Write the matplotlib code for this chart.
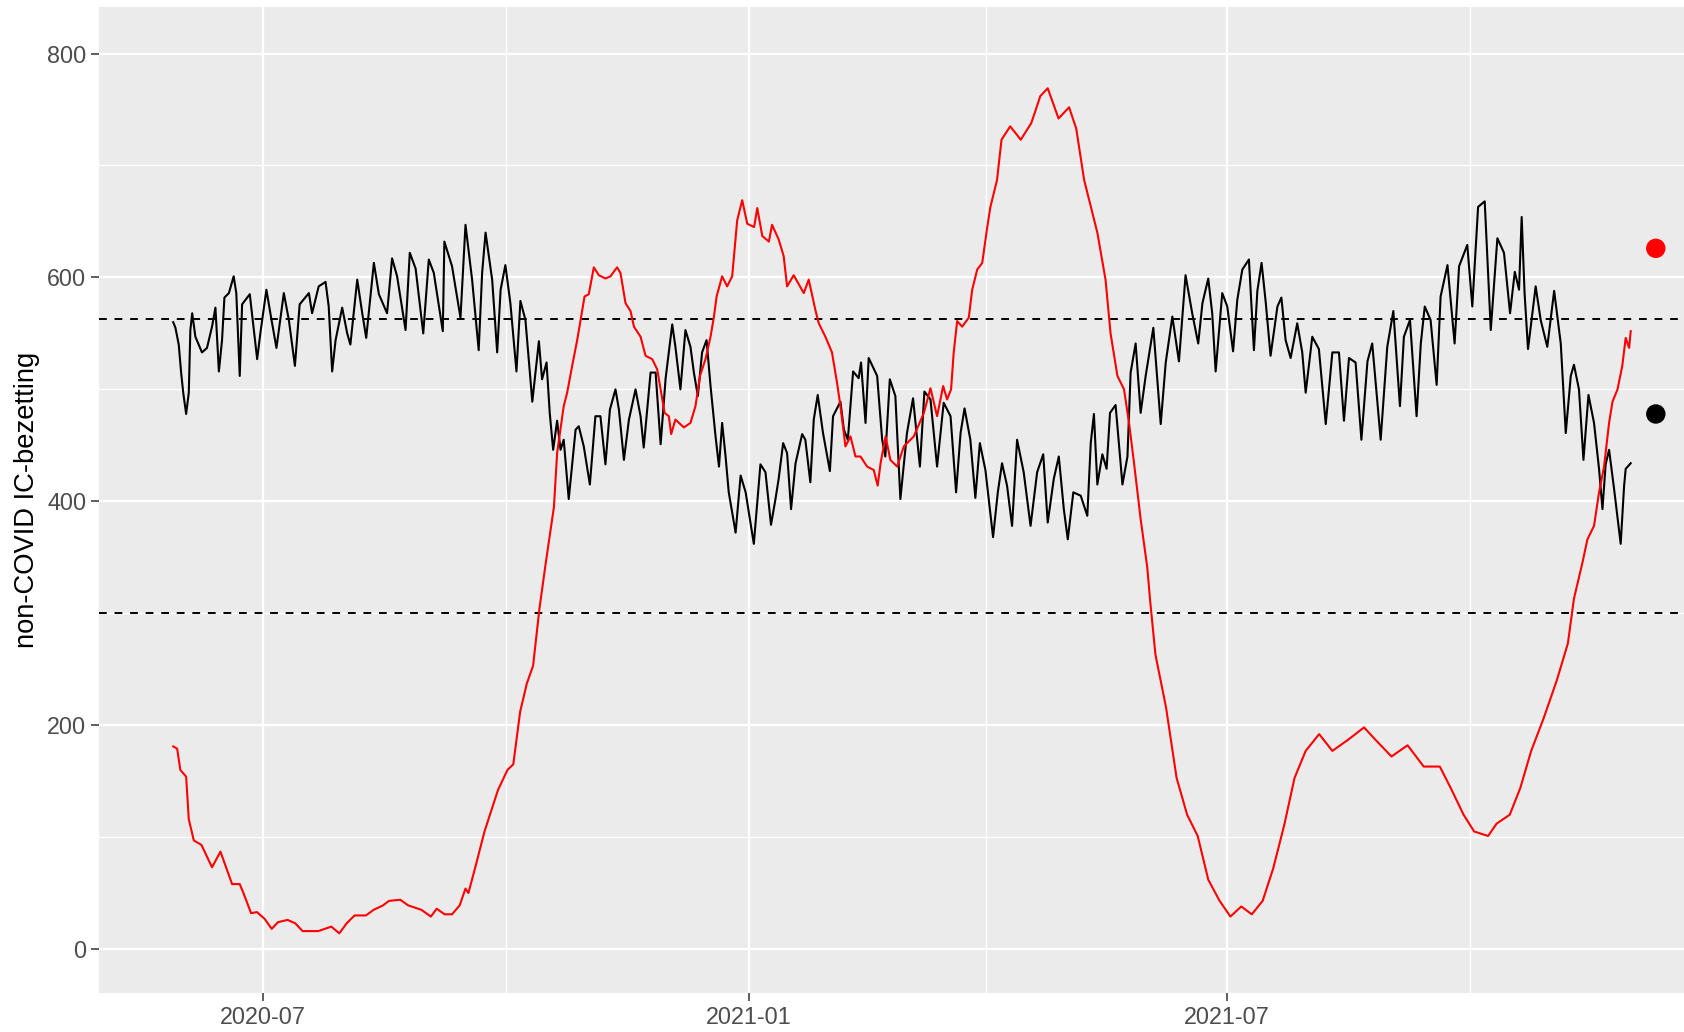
import matplotlib
matplotlib.use('Agg')
import matplotlib.pyplot as plt
import matplotlib.dates as mdates
import numpy as np
import pandas as pd

plt.rcParams['font.family'] = ['Liberation Sans', 'DejaVu Sans']

start = pd.Timestamp('2020-05-28')

# non-COVID IC occupancy (black), days counted from start
black_days = [0, 0.85, 2.1, 3.0, 3.8, 4.9, 5.9, 6.5, 7.2, 8.4, 10.9, 12.8, 14.7, 16.0, 17.3, 18.5,
              19.4, 21.1, 22.9, 23.9, 25.2, 26.1, 29.0, 31.8, 33.0, 35.3, 36.8, 39.1, 41.9, 43.8,
              46.1, 47.9, 51.4, 52.6, 55.1, 57.7, 58.9, 60.2, 61.5, 64.0, 65.9, 67.1, 69.7, 71.6,
              73.1, 76.0, 77.9, 81.0, 82.9, 84.8, 88.0, 89.6, 91.8, 94.7, 96.8, 98.7, 102.1, 102.7,
              105.6, 108.8, 110.7, 113.2, 115.7, 117.0, 118.3, 120.8, 122.7, 124.0, 125.8, 127.7,
              130.0, 131.5, 133.4, 136.0, 138.5, 139.7, 141.4, 142.6, 143.9, 145.4, 146.7, 147.9,
              149.8, 152.4, 153.6, 155.5, 157.8, 159.9, 161.8, 163.7, 165.4, 167.5, 168.8, 170.7,
              172.6, 175.1, 177.0, 178.2, 180.8, 182.7, 184.6, 186.5, 189.0, 190.2, 192.1, 194.0,
              195.9, 197.2, 198.7, 200.3, 202.0, 203.5, 205.4, 206.7, 207.9, 209.2, 210.4, 213.0,
              214.9, 216.8, 219.9, 222.4, 224.3, 226.4, 228.1, 229.3, 231.0, 232.5, 234.0, 235.7,
              238.2, 239.4, 241.3, 242.6, 244.1, 246.1, 248.7, 249.9, 252.7, 254.0, 255.5, 257.5,
              259.6, 260.5, 262.2, 263.4, 266.6, 268.5, 269.7, 271.4, 273.5, 275.4, 277.9, 280.2,
              282.8, 284.5, 286.8, 289.3, 291.8, 294.4, 296.5, 298.2, 299.7, 301.9, 303.8, 305.5,
              307.6, 310.5, 312.3, 313.9, 315.8, 317.7, 319.6, 322.1, 324.7, 327.2, 329.5, 331.2,
              333.5, 335.4, 337.3, 338.8, 340.9, 343.7, 346.2, 347.5, 348.7, 350.0, 351.9, 353.5,
              354.8, 356.9, 359.5, 361.4, 362.6, 364.5, 366.4, 368.3, 371.2, 374.0, 375.9, 378.4,
              380.9, 383.4, 386.0, 388.2, 389.8, 392.0, 393.5, 394.8, 397.3, 399.2, 401.4, 403.0,
              404.9, 407.4, 409.3, 410.6, 412.2, 413.8, 415.6, 418.2, 419.7, 421.3, 423.2, 425.7,
              427.6, 428.9, 431.4, 433.9, 436.5, 439.0, 441.5, 443.4, 445.3, 447.8, 450.0, 452.3,
              454.1, 457.3, 459.8, 462.1, 464.6, 466.1, 468.4, 470.9, 472.5, 474.0, 476.2, 478.5,
              480.0, 482.6, 485.3, 487.0, 490.1, 492.0, 494.2, 496.7, 499.0, 501.5, 504.0, 506.3,
              508.1, 509.7, 510.7, 511.8, 513.1, 516.0, 517.9, 520.4, 523.0, 525.5, 527.4, 529.3,
              530.5, 532.4, 534.1, 536.0, 538.1, 540.0, 541.3, 542.5, 543.8, 545.7, 548.2, 549.5,
              550.1, 552.0]
black_vals = [560, 555, 540, 515, 497, 478, 497, 553, 568, 547, 533, 537, 556, 573, 516, 544,
              582, 586, 601, 586, 512, 576, 585, 527, 550, 589, 568, 537, 586, 562,
              521, 576, 586, 568, 592, 596, 574, 516, 544, 573, 550, 540, 598, 568,
              546, 613, 585, 568, 617, 601, 553, 622, 608, 550, 616, 604, 552, 632,
              610, 564, 647, 598, 535, 604, 640, 598, 533, 589, 611, 577,
              516, 579, 562, 489, 543, 509, 524, 479, 446, 472, 446, 455,
              402, 464, 467, 449, 415, 476, 476, 433, 482, 500, 482, 437,
              473, 500, 476, 448, 515, 515, 451, 510, 558, 538, 500, 553,
              538, 515, 494, 533, 544, 503, 458, 431, 470, 440, 408, 372,
              423, 408, 362, 433, 426, 379, 402, 420, 452, 443, 393, 434,
              460, 455, 417, 473, 495, 461, 427, 476, 489, 464, 455, 516,
              510, 524, 470, 528, 512, 455, 440, 509, 494, 402, 461, 492,
              431, 498, 491, 431, 488, 476, 408, 461, 483, 455, 403, 452,
              428, 368, 408, 434, 414, 378, 455, 426, 378, 426, 442, 381,
              420, 440, 393, 366, 408, 405, 387, 452, 478, 415, 442, 429,
              479, 486, 415, 440, 515, 541, 479, 512, 555, 469, 524, 565,
              525, 602, 567, 541, 577, 599, 568, 516, 586, 574, 534, 580,
              607, 616, 535, 588, 613, 577, 530, 574, 582, 544, 528, 559,
              533, 497, 547, 536, 469, 533, 533, 472, 528, 524, 455, 525,
              541, 455, 538, 570, 485, 547, 562, 476, 541, 574, 562, 504,
              583, 611, 541, 610, 629, 574, 663, 668, 553, 635, 622, 568,
              605, 589, 654, 586, 536, 592, 562, 538, 588, 541, 461, 512,
              522, 500, 437, 495, 470, 429, 393, 433, 446, 411, 362, 414,
              429, 434]

# COVID IC occupancy (red)
red_days = [0, 1.5, 2.7, 4.9, 5.9, 7.8, 10.7, 14.7, 17.9, 22.3, 25.2, 26.6, 29.5, 31.7, 34.6,
            37.3, 39.7, 43.3, 46.2, 49.0, 54.9, 59.9, 62.9, 65.7, 68.7, 73.0, 75.9, 79.5, 81.7,
            86.0, 89.0, 94.0, 97.6, 99.8, 102.8, 105.6, 108.5, 110.7, 111.8, 114.3, 117.9, 123.0,
            126.6, 128.8, 131.4, 133.9, 136.3, 138.7, 141.1, 144.2, 145.4, 147.9, 149.2, 151.1,
            153.0, 154.3, 155.8, 157.4, 159.3, 161.2, 163.7, 165.6, 168.1, 169.4, 171.3, 173.2,
            174.5, 177.0, 178.9, 181.4, 183.3, 184.6, 186.1, 187.7, 188.6, 190.2, 193.4, 195.9,
            197.8, 199.5, 201.6, 203.5, 204.8, 205.8, 207.9, 209.8, 211.7, 212.3, 213.6, 215.5,
            217.4, 220.0, 221.2, 223.1, 225.6, 226.8, 229.3, 231.2, 232.5, 235.0, 238.8, 240.7,
            243.2, 244.5, 247.0, 249.5, 251.4, 252.7, 254.6, 256.5, 258.4, 260.3, 262.8, 265.3,
            266.8, 267.9, 269.8, 271.6, 274.2, 276.7, 280.5, 284.3, 286.8, 289.3, 291.6, 293.1,
            294.6, 295.6, 296.9, 298.8, 301.3, 302.6, 304.5, 306.4, 308.3, 309.5, 312.0, 313.7,
            317.0, 321.0, 325.0, 328.4, 331.2, 335.3, 339.3, 342.0, 345.0, 350.0, 353.1, 355.0,
            357.6, 360.1, 362.0, 363.9, 366.4, 368.9, 370.0, 372.0, 376.0, 380.0, 384.0, 388.0,
            392.0, 396.3, 400.4, 404.5, 408.5, 412.6, 416.6, 420.7, 424.7, 428.9, 434.0, 439.0,
            445.0, 451.0, 455.3, 461.4, 467.5, 473.6, 479.7, 483.8, 488.7, 492.7, 498.0, 501.2,
            506.2, 510.2, 514.3, 519.0, 524.0, 528.2, 530.5, 533.7, 535.6, 538.1, 540.0, 541.9,
            543.8, 545.1, 547.0, 548.8, 550.1, 551.4, 552.0]
red_vals = [181, 179, 160, 154, 116, 97, 93, 73, 87, 58, 58, 50, 32, 33, 27,
            18, 24, 26, 23, 16, 16, 20, 14, 23, 30, 30, 35, 39, 43,
            44, 39, 35, 29, 36, 31, 31, 39, 54, 50, 72, 105, 142,
            160, 165, 212, 237, 253, 304, 345, 395, 443, 485, 497, 521,
            544, 562, 583, 585, 609, 602, 599, 601, 609, 604, 577, 570,
            556, 547, 530, 527, 518, 500, 479, 476, 460, 473, 466, 470,
            485, 512, 527, 547, 565, 583, 601, 592, 601, 617, 651, 669,
            648, 645, 662, 637, 632, 647, 634, 619, 592, 602, 586, 598,
            571, 559, 547, 533, 506, 485, 449, 458, 440, 440, 431, 428,
            414, 434, 458, 437, 431, 449, 458, 479, 501, 476, 503, 491,
            500, 533, 561, 556, 564, 589, 607, 613, 645, 663, 687, 723,
            735, 723, 738, 762, 769, 742, 752, 733, 687, 640, 598, 550,
            512, 500, 470, 434, 384, 341, 311, 263, 216, 153, 120, 101,
            62, 43, 29, 38, 31, 43, 72, 110, 153, 177, 192, 177,
            187, 198, 187, 172, 182, 163, 163, 144, 120, 105, 101, 112,
            120, 144, 177, 206, 240, 273, 313, 345, 366, 378, 408, 431,
            470, 489, 500, 521, 546, 537, 552]

point_day = 561.5
point_vals = [626, 478]
point_colors = ['#FF0000', '#000000']
ref_lines = [563, 300]

major_dates = ['2020-07-01', '2021-01-01', '2021-07-01']
minor_dates = ['2020-10-01', '2021-04-01', '2021-10-01']


def to_dates(days):
    return start + pd.to_timedelta(np.asarray(days, dtype=float), unit='D')


fig = plt.figure(figsize=(16.84, 10.32), dpi=100)
ax = fig.add_axes([99 / 1684, 39 / 1032, 1631 / 1684, 986 / 1032])
ax.set_facecolor('#EBEBEB')
for s in ax.spines.values():
    s.set_visible(False)

for y in ref_lines:
    ax.axhline(y, color='black', lw=1.4, ls=(0, (4, 4)), zorder=2)

ax.plot(to_dates(black_days), black_vals, color='black', lw=1.5, zorder=3)
ax.plot(to_dates(red_days), red_vals, color='#FF0000', lw=1.5, zorder=3)
ax.scatter(to_dates([point_day] * 2), point_vals, s=14 ** 2, c=point_colors, zorder=4,
           linewidths=0)

ax.set_xlim(to_dates([-28.1])[0], to_dates([589.6])[0])
ax.set_ylim(-39.3, 841.6)

ax.set_xticks(pd.to_datetime(major_dates))
ax.set_xticks(pd.to_datetime(minor_dates), minor=True)
ax.xaxis.set_major_formatter(mdates.DateFormatter('%Y-%m'))
ax.set_yticks([0, 200, 400, 600, 800])
ax.set_yticks([100, 300, 500, 700], minor=True)

ax.grid(which='major', color='white', lw=1.6)
ax.grid(which='minor', color='white', lw=1.0)
ax.set_axisbelow(True)

ax.tick_params(which='major', length=6, width=1.1, color='#333333',
               labelsize=16.8, labelcolor='#4D4D4D', pad=3)
ax.tick_params(which='minor', length=0)

fig.text(26.6 / 1684, 1 - 500 / 1032, 'non-COVID IC-bezetting', rotation=90,
         ha='center', va='center', fontsize=19.7, color='black')

fig.savefig('out.png', dpi=100)
